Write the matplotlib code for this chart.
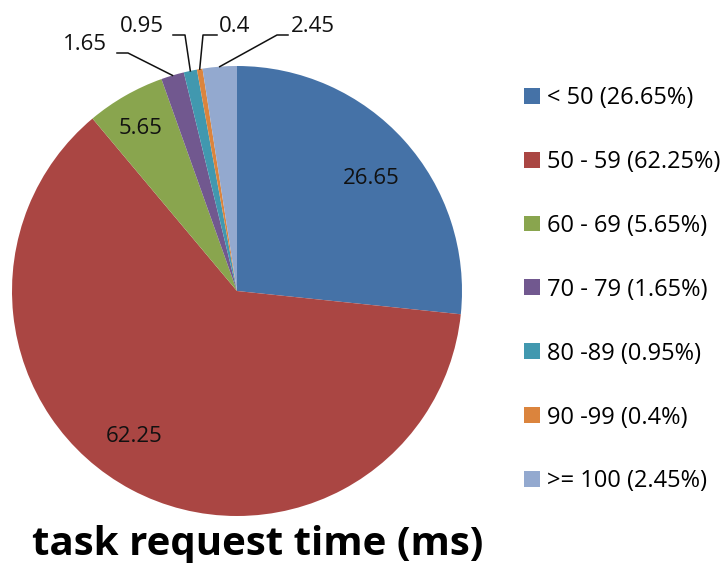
import matplotlib
matplotlib.use("Agg")
import matplotlib.pyplot as plt
import numpy as np

# Share of task requests per response-time bucket (%)
categories = ["< 50", "50 - 59", "60 - 69", "70 - 79", "80 -89", "90 -99", ">= 100"]
shares = [26.65, 62.25, 5.65, 1.65, 0.95, 0.4, 2.45]
colors = ["#4572A7", "#AA4643", "#89A54E", "#71588F", "#4198AF", "#DB843D", "#93A9CF"]
title = "task request time (ms)"

W, H = 723, 563
plt.rcParams["font.family"] = ["Open Sans", "DejaVu Sans"]

fig = plt.figure(figsize=(W / 100, H / 100), dpi=100)
ax = fig.add_axes([0, 0, 1, 1])


def px(x, y):
    """Pixel position (origin top-left) -> axes data coordinates."""
    return x, H - y


center = px(237, 291)
radius = 225
wedges, _ = ax.pie(shares, colors=colors, startangle=90, counterclock=False,
                   center=center, radius=radius,
                   wedgeprops=dict(linewidth=0))
ax.set_xlim(0, W)
ax.set_ylim(0, H)
ax.set_aspect("equal")
ax.axis("off")

fs = 16

# Labels inside the large slices
inside = {0: (371, 178), 1: (134, 437), 2: (141, 128)}
for i, (x, y) in inside.items():
    ax.text(*px(x, y), f"{shares[i]:g}", ha="center", va="center",
            fontsize=fs, color="#111111")

# Labels with leader lines for the thin slices: (text pos, elbow, horizontal end)
outside = {
    3: ((85, 45), (128, 53), (117, 53)),
    4: ((142, 27), (185, 35), (173, 35)),
    5: ((235, 27), (203, 35), (217, 35)),
    6: ((313, 27), (277, 35), (288, 35)),
}
for i, (tpos, elbow, hend) in outside.items():
    w = wedges[i]
    mid = np.deg2rad((w.theta1 + w.theta2) / 2)
    edge = (center[0] + radius * np.cos(mid), center[1] + radius * np.sin(mid))
    e = px(*elbow)
    h = px(*hend)
    ax.plot([edge[0], e[0], h[0]], [edge[1], e[1], h[1]], color="#111111", lw=1.1)
    ax.text(*px(*tpos), f"{shares[i]:g}", ha="center", va="center",
            fontsize=fs, color="#111111")

labels = [f"{c} ({s:g}%)" for c, s in zip(categories, shares)]
fig.legend(wedges, labels, loc="upper left", bbox_to_anchor=(524 / W, 1 - 86 / H),
           frameon=False, fontsize=17, handlelength=0.66, handleheight=0.66,
           handletextpad=0.3, labelspacing=1.69, borderaxespad=0, borderpad=0)

fig.text(258 / W, 1 - 555 / H, title, ha="center", va="baseline",
         fontsize=29, fontweight="bold", color="black")

fig.savefig("out.png", dpi=100)
